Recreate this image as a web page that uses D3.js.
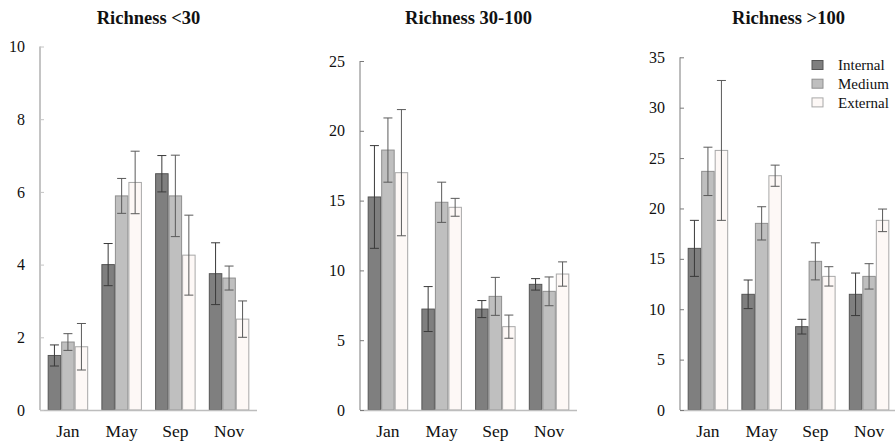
<!DOCTYPE html>
<html>
<head>
<meta charset="utf-8">
<script src="https://cdn.jsdelivr.net/npm/d3@7/dist/d3.min.js"></script>
<style>
  html, body { margin: 0; padding: 0; background: #fff; }
  svg { display: block; }
  svg text { font-family: 'Liberation Serif', 'DejaVu Serif', serif !important; fill: #111; }
</style>
</head>
<body>
<svg id="chart" width="895" height="441"></svg>
<script>
// ---------- data ----------
const months = ["Jan", "May", "Sep", "Nov"];
const seriesNames = ["Internal", "Medium", "External"];
const panelTitles = ["Richness <30", "Richness 30-100", "Richness >100"];

// Richness <30
const lowInternal = [1.50, 4.00, 6.50, 3.75];
const lowMedium   = [1.87, 5.89, 5.89, 3.63];
const lowExternal = [1.74, 6.26, 4.26, 2.50];
const lowInternalErr = [0.29, 0.58, 0.50, 0.85];
const lowMediumErr   = [0.23, 0.48, 1.12, 0.33];
const lowExternalErr = [0.64, 0.86, 1.10, 0.50];
const lowTicks = [0, 2, 4, 6, 8, 10];

// Richness 30-100
const midInternal = [15.26, 7.23, 7.23, 9.00];
const midMedium   = [18.62, 14.88, 8.14, 8.50];
const midExternal = [17.00, 14.52, 5.97, 9.74];
const midInternalErr = [3.68, 1.61, 0.61, 0.41];
const midMediumErr   = [2.30, 1.44, 1.36, 1.03];
const midExternalErr = [4.52, 0.64, 0.83, 0.87];
const midTicks = [0, 5, 10, 15, 20, 25];

// Richness >100
const highInternal = [16.04, 11.48, 8.27, 11.48];
const highMedium   = [23.68, 18.52, 14.75, 13.26];
const highExternal = [25.76, 23.25, 13.26, 18.82];
const highInternalErr = [2.78, 1.42, 0.73, 2.11];
const highMediumErr   = [2.40, 1.65, 1.84, 1.26];
const highExternalErr = [6.94, 1.05, 0.96, 1.12];
const highTicks = [0, 5, 10, 15, 20, 25, 30, 35];

// ---------- styles ----------
const FONT = "'Liberation Serif', 'DejaVu Serif', serif";
const fills   = ["#7f7f7f", "#bfbfbf", "#fdf8f6"];
const strokes = ["#555555", "#8f8f8f", "#a8a8a8"];
const errColor = ["#3a3a3a", "#5a5a5a", "#5a5a5a"];

const panels = [
  { title: panelTitles[0], means: [lowInternal, lowMedium, lowExternal],
    errs: [lowInternalErr, lowMediumErr, lowExternalErr], ticks: lowTicks,
    x0: 40, top: 46.5, axisColor: "#c4c4c4", axisWidth: 2 },
  { title: panelTitles[1], means: [midInternal, midMedium, midExternal],
    errs: [midInternalErr, midMediumErr, midExternalErr], ticks: midTicks,
    x0: 360, top: 61, axisColor: "#7a7a7a", axisWidth: 1 },
  { title: panelTitles[2], means: [highInternal, highMedium, highExternal],
    errs: [highInternalErr, highMediumErr, highExternalErr], ticks: highTicks,
    x0: 680, top: 57.3, axisColor: "#7a7a7a", axisWidth: 1 }
];

const svg = d3.select("#chart");
const plotW = 217;
const baseY = 410;

panels.forEach((p) => {
  const g = svg.append("g");
  const ymax = p.ticks[p.ticks.length - 1];
  const y = d3.scaleLinear().domain([0, ymax]).range([baseY, p.top]);
  const x = d3.scaleBand().domain(months).range([p.x0, p.x0 + plotW])
    .paddingInner(0.246).paddingOuter(0.143);
  const xs = d3.scaleBand().domain(seriesNames).range([0, x.bandwidth()]).padding(0);

  // title
  g.append("text")
    .attr("x", p.x0 + plotW / 2).attr("y", 24)
    .attr("text-anchor", "middle")
    .style("font-family", FONT)
    .style("font-size", "18.5px").style("font-weight", "bold")
    .text(p.title);

  // bars
  seriesNames.forEach((s, si) => {
    const data = months.map((m, mi) => ({ m, v: p.means[si][mi], e: p.errs[si][mi] }));
    g.selectAll(null).data(data).enter().append("rect")
      .attr("x", d => x(d.m) + xs(s) + 0.5)
      .attr("y", d => y(d.v))
      .attr("width", xs.bandwidth() - 1)
      .attr("height", d => y(0) - y(d.v))
      .attr("fill", fills[si])
      .attr("stroke", strokes[si])
      .attr("stroke-width", 1);
  });

  // x axis line
  g.append("line")
    .attr("x1", p.x0).attr("x2", p.x0 + plotW)
    .attr("y1", baseY + 0.5).attr("y2", baseY + 0.5)
    .attr("stroke", "#bdbdbd").attr("stroke-width", 1.5);

  // error bars
  seriesNames.forEach((s, si) => {
    const data = months.map((m, mi) => ({ m, v: p.means[si][mi], e: p.errs[si][mi] }));
    const eg = g.selectAll(null).data(data).enter().append("g")
      .attr("stroke", errColor[si]).attr("stroke-width", 1);
    const cx = d => x(d.m) + xs(s) + xs.bandwidth() / 2;
    eg.append("line")
      .attr("x1", cx).attr("x2", cx)
      .attr("y1", d => y(d.v + d.e)).attr("y2", d => y(d.v - d.e));
    eg.append("line")
      .attr("x1", d => cx(d) - 4.5).attr("x2", d => cx(d) + 4.5)
      .attr("y1", d => y(d.v + d.e)).attr("y2", d => y(d.v + d.e));
    eg.append("line")
      .attr("x1", d => cx(d) - 4.5).attr("x2", d => cx(d) + 4.5)
      .attr("y1", d => y(d.v - d.e)).attr("y2", d => y(d.v - d.e));
  });

  // y axis
  const yAxis = d3.axisLeft(y).tickValues(p.ticks).tickSize(-4).tickPadding(15)
    .tickFormat(d3.format("d"));
  const ya = g.append("g").attr("transform", `translate(${p.x0},0)`).call(yAxis)
    .attr("font-family", null).attr("font-size", null);
  ya.select(".domain").remove();
  ya.selectAll(".tick line").attr("stroke", p.axisColor).attr("stroke-width", 1);
  ya.selectAll(".tick text")
    .style("font-family", FONT)
    .style("font-size", "16px").attr("fill", "#111");
  g.append("line")
    .attr("x1", p.x0).attr("x2", p.x0)
    .attr("y1", p.top).attr("y2", baseY)
    .attr("stroke", p.axisColor).attr("stroke-width", p.axisWidth);

  // x labels
  const xAxis = d3.axisBottom(x).tickSize(0).tickPadding(0);
  const xa = g.append("g").attr("transform", `translate(0,${baseY})`).call(xAxis)
    .attr("font-family", null).attr("font-size", null);
  xa.select(".domain").remove();
  xa.selectAll(".tick text")
    .attr("dy", null).attr("y", 27)
    .style("font-family", FONT)
    .style("font-size", "17.5px").attr("fill", "#111");
});

// legend (third panel)
const legend = svg.append("g").attr("transform", "translate(812,65)");
seriesNames.forEach((s, i) => {
  const row = legend.append("g").attr("transform", `translate(0,${i * 18.7})`);
  row.append("rect").attr("x", 0).attr("y", -4.5).attr("width", 11).attr("height", 9)
    .attr("fill", fills[i]).attr("stroke", strokes[i]).attr("stroke-width", 1);
  row.append("text").attr("x", 26).attr("y", 0).attr("dy", "0.35em")
    .style("font-family", FONT)
    .style("font-size", "15px").text(s);
});
</script>
</body>
</html>
